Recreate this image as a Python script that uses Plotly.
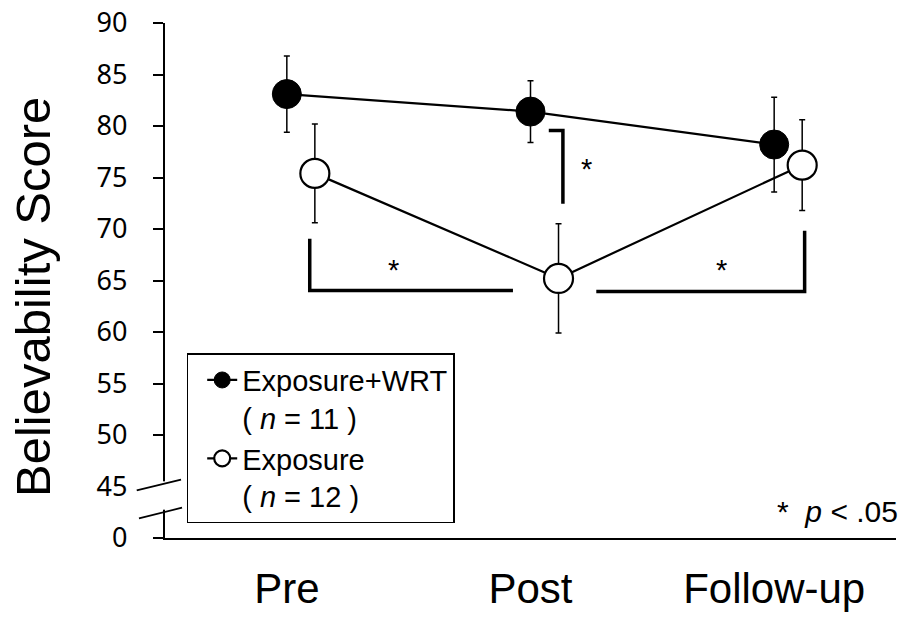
import plotly.graph_objects as go

# Believability scores (mean ± error) at the three assessment points
categories = ["Pre", "Post", "Follow-up"]
wrt_mean = [83.1, 81.4, 78.2]
wrt_err = [3.7, 3.0, 4.6]
exp_mean = [75.4, 65.2, 76.2]
exp_err = [4.8, 5.3, 4.4]

# Y tick labels; the axis is broken below 45, so the "0" label sits one step lower
y_tickvals = [40, 45, 50, 55, 60, 65, 70, 75, 80, 85, 90]
y_ticktext = ["0", "45", "50", "55", "60", "65", "70", "75", "80", "85", "90"]

ARIAL = "Liberation Sans, Arial, sans-serif"
TICKFONT = "Noto Sans, Meiryo, sans-serif"
OPEN_OFFSET = 0.115

x_cat = list(range(len(categories)))
x_open = [i + OPEN_OFFSET for i in x_cat]

fig = go.Figure()

fig.add_trace(go.Scatter(
    x=x_cat, y=wrt_mean,
    mode="lines+markers",
    name="Exposure+WRT<br>( <i>n</i> = 11 )",
    line=dict(color="black", width=2.2),
    marker=dict(size=29, color="black", line=dict(color="black", width=1)),
    error_y=dict(type="data", array=wrt_err, visible=True,
                 color="black", thickness=1.5, width=3),
    cliponaxis=False,
))

fig.add_trace(go.Scatter(
    x=x_open, y=exp_mean,
    mode="lines+markers",
    name="Exposure<br>( <i>n</i> = 12 )",
    line=dict(color="black", width=2.2),
    marker=dict(size=29, color="white", line=dict(color="black", width=2.2)),
    error_y=dict(type="data", array=exp_err, visible=True,
                 color="black", thickness=1.5, width=3),
    cliponaxis=False,
))

shapes = []

# erase the y-axis line across the break, then draw the two break slashes
shapes.append(dict(type="rect", xref="paper", yref="y", layer="above",
                   x0=-0.02, x1=0.012, y0=42.75, y1=45.5,
                   fillcolor="white", line=dict(width=0)))
for (xa, ya, xb, yb) in [(-0.0387, 44.62, 0.0219, 45.66),
                         (-0.0356, 41.90, 0.0233, 42.94)]:
    shapes.append(dict(type="line", xref="paper", yref="y", layer="above",
                       x0=xa, y0=ya, x1=xb, y1=yb,
                       line=dict(color="black", width=1.8)))

# significance brackets
BR = dict(color="black", width=3.5)
brackets = [
    [(0.094, 69.06), (0.094, 64.04), (0.928, 64.04)],   # Pre vs Post (Exposure)
    [(1.270, 63.94), (2.125, 63.94), (2.125, 69.83)],   # Post vs Follow-up (Exposure)
    [(1.075, 79.57), (1.133, 79.57), (1.133, 72.46)],   # groups at Post
]
for pts in brackets:
    path = "M {} {}".format(*pts[0]) + "".join(" L {} {}".format(*p) for p in pts[1:])
    shapes.append(dict(type="path", xref="x", yref="y", path=path, line=BR,
                       layer="above"))

annotations = []
for (sx, sy) in [(0.439, 66.54), (1.783, 66.54), (1.229, 76.34)]:
    annotations.append(dict(x=sx, y=sy, xref="x", yref="y", text="*",
                            showarrow=False, font=dict(family=ARIAL, size=29, color="black"),
                            xanchor="center", yanchor="middle", yshift=-5))

annotations.append(dict(
    x=(900 - 165) / 731, y=(42.55 - 40) / 50, xref="paper", yref="paper",
    text="*\u00a0\u00a0<i>p</i> &lt; .05", showarrow=False,
    font=dict(family=ARIAL, size=30, color="black"),
    xanchor="right", yanchor="middle"))

annotations.append(dict(
    x=(33 - 165) / 731, y=0.468, xref="paper", yref="paper",
    text="Believability Score", textangle=-90, showarrow=False,
    font=dict(family=ARIAL, size=49, color="black"),
    xanchor="center", yanchor="middle"))

fig.update_layout(
    width=908, height=619,
    template="none",
    paper_bgcolor="white", plot_bgcolor="white",
    margin=dict(l=165, r=12, t=23, b=81, pad=0),
    showlegend=True,
    legend=dict(
        x=(186.7 - 165) / 731, y=0.359, xanchor="left", yanchor="top",
        bgcolor="white", bordercolor="black", borderwidth=1.5,
        font=dict(family=ARIAL, size=29, color="black"),
        valign="top", tracegroupgap=0, itemsizing="trace",
        indentation=14,
    ),
    xaxis=dict(
        range=[-0.5, 2.5], tickvals=x_cat, ticktext=categories,
        showline=True, linecolor="black", linewidth=2.2,
        showgrid=False, zeroline=False, ticks="",
        tickfont=dict(family=ARIAL, size=42, color="black"),
        ticklabelstandoff=12, automargin=False,
    ),
    yaxis=dict(
        range=[40, 90], tickvals=y_tickvals, ticktext=y_ticktext,
        showline=True, linecolor="black", linewidth=2.2,
        showgrid=False, zeroline=False,
        ticks="outside", ticklen=10, tickwidth=2, tickcolor="black",
        tickfont=dict(family=TICKFONT, size=27, color="black"),
        ticklabelstandoff=20, automargin=False,
    ),
    shapes=shapes,
    annotations=annotations,
)

fig.write_html("out.html")
